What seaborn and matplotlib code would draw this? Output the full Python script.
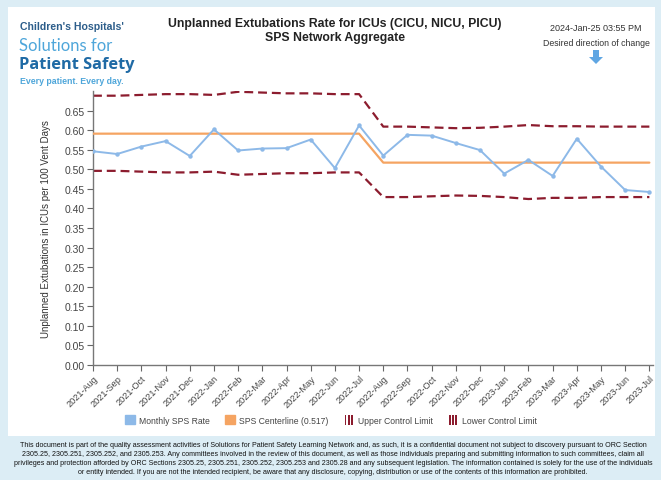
import matplotlib
matplotlib.use("Agg")
import matplotlib.pyplot as plt
import seaborn as sns
import pandas as pd
import numpy as np
from matplotlib.patches import Rectangle, Patch, FancyArrow
from matplotlib.legend_handler import HandlerBase

months = ["2021-Aug", "2021-Sep", "2021-Oct", "2021-Nov", "2021-Dec",
          "2022-Jan", "2022-Feb", "2022-Mar", "2022-Apr", "2022-May", "2022-Jun", "2022-Jul",
          "2022-Aug", "2022-Sep", "2022-Oct", "2022-Nov", "2022-Dec",
          "2023-Jan", "2023-Feb", "2023-Mar", "2023-Apr", "2023-May", "2023-Jun", "2023-Jul"]
rate = [0.546, 0.539, 0.558, 0.572, 0.534, 0.602, 0.548, 0.553, 0.554, 0.576, 0.503, 0.612,
        0.535, 0.588, 0.586, 0.567, 0.549, 0.489, 0.524, 0.483, 0.578, 0.507, 0.447, 0.442]
centerline = [0.591] * 12 + [0.517] * 12
ucl = [0.688, 0.688, 0.690, 0.692, 0.692, 0.690, 0.698, 0.696, 0.694, 0.694, 0.692, 0.692,
       0.609, 0.609, 0.607, 0.605, 0.606, 0.609, 0.613, 0.610, 0.610, 0.609, 0.609, 0.609]
lcl = [0.496, 0.496, 0.494, 0.492, 0.492, 0.494, 0.486, 0.488, 0.490, 0.490, 0.492, 0.492,
       0.429, 0.429, 0.431, 0.433, 0.432, 0.429, 0.424, 0.427, 0.427, 0.429, 0.429, 0.429]
yticks = [round(0.05 * i, 2) for i in range(14)]

df = pd.DataFrame({"idx": range(len(months)), "month": months, "rate": rate,
                   "center": centerline, "ucl": ucl, "lcl": lcl})

BLUE = "#8db9e8"
ORANGE = "#f5a462"
RED = "#8c1c2e"
FRAME = "#dcedf5"

sns.set_theme(style="white")
plt.rcParams["font.family"] = ["Liberation Sans", "DejaVu Sans"]


class StripeHandler(HandlerBase):
    def create_artists(self, legend, orig_handle, xdescent, ydescent, width, height, fontsize, trans):
        arts = []
        n = 3
        bw = width / (2 * n - 1) * 0.9
        step = width / n
        for i in range(n):
            r = Rectangle((-xdescent + i * step + (step - bw) / 2, -ydescent - height * 0.1), bw, height * 1.2,
                          facecolor=RED, edgecolor="none", transform=trans)
            arts.append(r)
        return arts


class Stripe:
    pass


fig = plt.figure(figsize=(6.61, 4.81), dpi=100)
fig.patch.set_facecolor(FRAME)
W, H = 661, 481
# white panel
fig.patches.append(Rectangle((8 / W, 1 - 437 / H), (655 - 8) / W, (437 - 8) / H,
                             transform=fig.transFigure, facecolor="white", edgecolor="none", zorder=-5))

ax = fig.add_axes([93 / W, 1 - 366 / H, (653 - 93) / W, (366 - 92) / H])
ax.set_zorder(2)
ax.set_facecolor("none")

sns.lineplot(data=df, x="idx", y="ucl", ax=ax, color=RED, lw=1.6, linestyle=(0, (4, 2.2)), zorder=2)
sns.lineplot(data=df, x="idx", y="lcl", ax=ax, color=RED, lw=1.6, linestyle=(0, (4, 2.2)), zorder=2)
sns.lineplot(data=df, x="idx", y="center", ax=ax, color=ORANGE, lw=1.6, zorder=3)
sns.lineplot(data=df, x="idx", y="rate", ax=ax, color=BLUE, lw=1.4, marker="o",
             markersize=3.2, markeredgewidth=0, zorder=4)

ax.set_xlim(0, len(months) - 1 + 0.15)
ax.set_ylim(0, 0.70)
ax.set_yticks(yticks)
ax.set_yticklabels([f"{v:.2f}" for v in yticks], fontsize=7.5, color="#444444")
ax.set_xticks(range(len(months)))
ax.set_xticklabels(months, rotation=45, ha="right", rotation_mode="anchor", fontsize=6.6, color="#444444")
ax.tick_params(axis="both", which="both", length=4, width=0.8, color="#666666", direction="out",
               bottom=True, left=True, pad=2)
for s in ["top", "right"]:
    ax.spines[s].set_visible(False)
for s in ["left", "bottom"]:
    ax.spines[s].set_color("#777777")
    ax.spines[s].set_linewidth(1.0)
ax.set_xlabel("")
ax.set_ylabel("Unplanned Extubations in ICUs per 100 Vent Days", fontsize=7, color="#333333", labelpad=10)
ax.grid(False)

# legend
s1, s2 = Stripe(), Stripe()
handles = [Patch(facecolor=BLUE, edgecolor=BLUE),
           Patch(facecolor=ORANGE, edgecolor=ORANGE),
           s1, s2]
labels = ["Monthly SPS Rate", "SPS Centerline (0.517)", "Upper Control Limit", "Lower Control Limit"]
fig.legend(handles, labels, loc="center", bbox_to_anchor=(331 / W, 1 - 421 / H), ncol=4,
           frameon=False, fontsize=6.2, handlelength=1.1, handleheight=1.1, columnspacing=1.8,
           handletextpad=0.5, labelcolor="#444444", handler_map={Stripe: StripeHandler()})

# title
fig.text(335 / W, 1 - 31 / H, "Unplanned Extubations Rate for ICUs (CICU, NICU, PICU)\nSPS Network Aggregate",
         ha="center", va="center", fontsize=8.8, fontweight="bold", color="#222222", linespacing=1.25)

# timestamp + direction
fig.text(596 / W, 1 - 29 / H, "2024-Jan-25 03:55 PM", ha="center", va="center", fontsize=6.5, color="#333333")
fig.text(596 / W, 1 - 44 / H, "Desired direction of change", ha="center", va="center", fontsize=6.3, color="#333333")
fig.patches.append(FancyArrow(596 / W, 1 - 51 / H, 0, -14 / H, width=6 / W, head_width=14 / W,
                              head_length=7 / H, length_includes_head=True, transform=fig.transFigure,
                              color="#5fa6e3", ec="none"))

# logo
fig.text(20 / W, 1 - 27 / H, "Children's Hospitals'", fontsize=7.6, fontweight="bold", color="#2c5d8a",
         ha="left", va="center")
fig.text(19 / W, 1 - 46 / H, "Solutions for", fontsize=12, color="#4ea6da", ha="left", va="center",
         fontfamily=["Lato", "DejaVu Sans"])
fig.text(19 / W, 1 - 65 / H, "Patient Safety", fontsize=11.8, fontweight="bold", color="#1f6aa5",
         ha="left", va="center", fontfamily=["Open Sans", "DejaVu Sans"])
fig.text(20 / W, 1 - 82 / H, "Every patient. Every day.", fontsize=6.3, color="#4ea6da", ha="left",
         va="center", fontweight="bold")

# footer
footer = ("This document is part of the quality assessment activities of Solutions for Patient Safety Learning Network and, as such, it is a confidential document not subject to discovery pursuant to ORC Section\n"
          "2305.25, 2305.251, 2305.252, and 2305.253. Any committees involved in the review of this document, as well as those individuals preparing and submitting information to such committees, claim all\n"
          "privileges and protection afforded by ORC Sections 2305.25, 2305.251, 2305.252, 2305.253 and 2305.28 and any subsequent legislation. The information contained is solely for the use of the individuals\n"
          "or entity intended. If you are not the intended recipient, be aware that any disclosure, copying, distribution or use of the contents of this information are prohibited.")
fig.text(333 / W, 1 - 459 / H, footer, ha="center", va="center", fontsize=5.1, color="#111111",
         fontfamily=["Liberation Sans Narrow", "Liberation Sans", "DejaVu Sans"], linespacing=1.35)

fig.savefig("out.png", dpi=100, facecolor=fig.get_facecolor())
